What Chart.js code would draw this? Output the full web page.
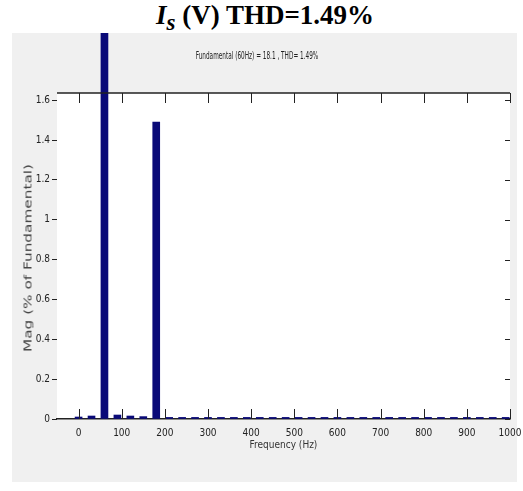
<!DOCTYPE html>
<html>
<head>
<meta charset="utf-8">
<script src="https://cdn.jsdelivr.net/npm/chart.js@4.4.1/dist/chart.umd.min.js"></script>
<style>
  body { margin: 0; background: #fff; width: 523px; height: 491px; position: relative; overflow: hidden; }
  #title { position: absolute; left: 0; width: 530px; top: 0; text-align: center;
    font: bold 27px "Liberation Serif", "Times New Roman", serif; color: #000; line-height: 30px; }
  #title sub { font-size: 23px; vertical-align: -6px; line-height: 0; }
  #bg { position: absolute; left: 12px; top: 33px; width: 505px; height: 449px; background: #f0f0f0; }
  #chart { position: absolute; left: 12px; top: 33px; }
  #sub { position: absolute; left: 257px; top: 50px; transform: translateX(-50%) scaleX(0.64);
    font: 10px "Liberation Sans Narrow", "DejaVu Sans Condensed", "Liberation Sans", sans-serif; color: #222; white-space: nowrap; }
  #ylab { position: absolute; left: 28px; top: 258px; transform: translate(-50%, -50%) rotate(-90deg) scaleX(1.7);
    font: 10px "Liberation Sans Narrow", "DejaVu Sans Condensed", "Liberation Sans", sans-serif; color: #444; white-space: nowrap; }
</style>
</head>
<body>
<div id="title"><i>I</i><sub><i>s</i></sub> (V) THD=1.49%</div>
<div id="bg"></div>
<canvas id="chart" width="511" height="449"></canvas>
<div id="sub">Fundamental (60Hz) = 18.1 , THD= 1.49%</div>
<div id="ylab">Mag (% of Fundamental)</div>
<script>
// harmonic frequencies (Hz) and magnitudes (% of fundamental)
const freqs = [0, 30, 60, 90, 120, 150, 180, 210, 240, 270, 300, 330, 360, 390, 420, 450, 480,
  510, 540, 570, 600, 630, 660, 690, 720, 750, 780, 810, 840, 870, 900, 930, 960, 990];
const mags = [0.010, 0.015, 100, 0.020, 0.015, 0.012, 1.49, 0.008, 0.008, 0.008, 0.008, 0.008, 0.008,
  0.008, 0.008, 0.008, 0.008, 0.008, 0.008, 0.008, 0.008, 0.008, 0.008, 0.008, 0.008, 0.008, 0.008,
  0.008, 0.008, 0.008, 0.008, 0.008, 0.008, 0.008];
const xTicks = [0, 100, 200, 300, 400, 500, 600, 700, 800, 900, 1000];
const yTicks = [0, 0.2, 0.4, 0.6, 0.8, 1, 1.2, 1.4, 1.6];

const tickFont = { family: '"Liberation Sans Narrow", "DejaVu Sans Condensed", "Liberation Sans", sans-serif', size: 10 };

const frame = {
  id: 'frame',
  beforeDraw(chart) {
    const { ctx, chartArea: a } = chart;
    ctx.save();
    ctx.fillStyle = '#fff';
    ctx.fillRect(a.left, a.top, a.right - a.left, a.bottom - a.top);
    ctx.restore();
  },
  afterDatasetsDraw(chart) {
    const { ctx, chartArea: a, scales: { x, y } } = chart;
    ctx.save();
    ctx.strokeStyle = '#222';
    ctx.lineWidth = 1.5;
    ctx.beginPath();
    ctx.moveTo(a.left, a.top);
    ctx.lineTo(a.right, a.top);
    ctx.stroke();
    ctx.lineWidth = 1;
    ctx.beginPath();
    x.ticks.forEach(t => {
      const px = Math.round(x.getPixelForValue(t.value)) + 0.5;
      ctx.moveTo(px, a.bottom); ctx.lineTo(px, a.bottom - 10);
      ctx.moveTo(px, a.top); ctx.lineTo(px, a.top + 10);
    });
    y.ticks.forEach(t => {
      const py = Math.round(y.getPixelForValue(t.value)) + 0.5;
      ctx.moveTo(a.right - 5, py); ctx.lineTo(a.right, py);
    });
    ctx.stroke();
    ctx.restore();
  }
};

new Chart(document.getElementById('chart'), {
  type: 'bar',
  data: {
    datasets: [{
      data: freqs.map((f, i) => ({ x: f, y: mags[i] })),
      backgroundColor: '#0a0a78',
      barThickness: 7,
      clip: false
    }]
  },
  options: {
    responsive: false,
    animation: false,
    layout: { padding: { top: 60, right: 13, left: 0, bottom: 0 } },
    plugins: { legend: { display: false }, tooltip: { enabled: false } },
    scales: {
      x: {
        type: 'linear',
        offset: false,
        bounds: 'data',
        min: -50,
        max: 1000,
        afterBuildTicks: s => { s.ticks = xTicks.map(v => ({ value: v })); },
        afterFit: s => { s.height = 63; s.paddingLeft = 0; s.paddingRight = 0; },
        grid: { display: false, drawTicks: false, offset: false },
        border: { display: true, color: '#222', width: 1.5 },
        ticks: { padding: 8, color: '#222', font: tickFont, maxRotation: 0, autoSkip: false, callback: v => String(v) },
        title: {
          display: true, text: 'Frequency (Hz)', color: '#333',
          font: { family: tickFont.family, size: 10 },
          padding: { top: 31, bottom: 31 }
        }
      },
      y: {
        bounds: 'data',
        min: 0,
        max: 1.636,
        afterBuildTicks: s => { s.ticks = yTicks.map(v => ({ value: v })); },
        afterFit: s => { s.width = 45; s.paddingTop = 0; s.paddingBottom = 0; },
        grid: { drawOnChartArea: false, drawTicks: true, tickLength: 5, color: '#222' },
        border: { display: false },
        ticks: { padding: 2, color: '#222', font: tickFont, callback: v => String(+v.toFixed(2)) }
      }
    }
  },
  plugins: [frame]
});
</script>
</body>
</html>
